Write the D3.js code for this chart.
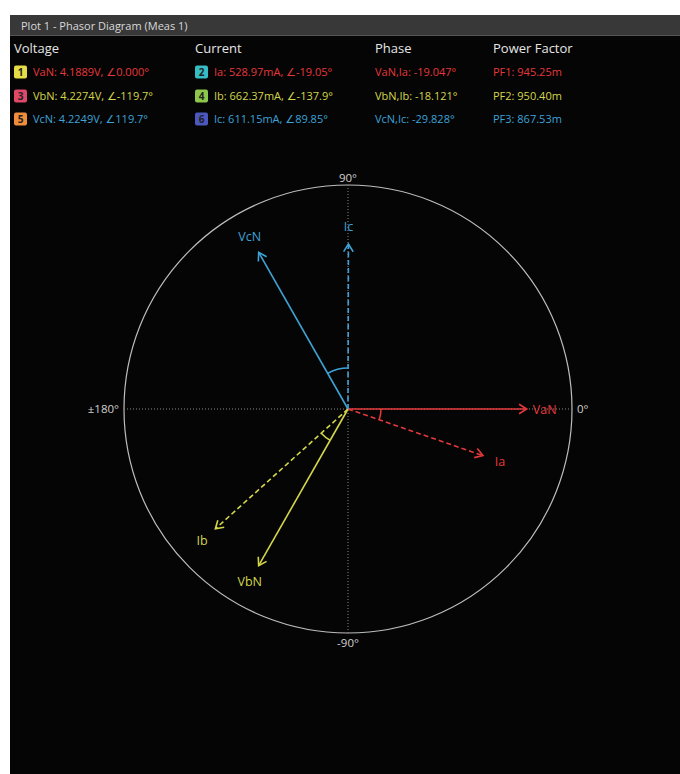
<!DOCTYPE html>
<html>
<head>
<meta charset="utf-8">
<script src="https://cdn.jsdelivr.net/npm/d3@7"></script>
<style>
  body { margin: 0; background: #fff; }
  #chart { position: absolute; left: 0; top: 0; }
</style>
</head>
<body>
<div id="chart"></div>
<script>
// phasor data
const voltNames = ["VaN", "VbN", "VcN"];
const voltMags = [4.1889, 4.2274, 4.2249];       // V
const voltAngles = [0.0, -119.7, 119.7];         // deg
const voltText = ["VaN: 4.1889V, ∠0.000°", "VbN: 4.2274V, ∠-119.7°", "VcN: 4.2249V, ∠119.7°"];

const currNames = ["Ia", "Ib", "Ic"];
const currMags = [528.97, 662.37, 611.15];       // mA
const currAngles = [-19.05, -137.9, 89.85];      // deg
const currText = ["Ia: 528.97mA, ∠-19.05°", "Ib: 662.37mA, ∠-137.9°", "Ic: 611.15mA, ∠89.85°"];

const phaseText = ["VaN,Ia: -19.047°", "VbN,Ib: -18.121°", "VcN,Ic: -29.828°"];
const pfText = ["PF1: 945.25m", "PF2: 950.40m", "PF3: 867.53m"];

const phaseColors = ["#e5383b", "#d3d64a", "#3ea2d6"];
const voltBadges = ["#e6dc45", "#e04868", "#ef8d3a"];
const currBadges = ["#36bcc4", "#8cc64a", "#4a58c0"];
const badgeNums = ["1", "3", "5"];
const currBadgeNums = ["2", "4", "6"];

const axisLabels = [
  { t: "0°", a: 0 }, { t: "90°", a: 90 }, { t: "±180°", a: 180 }, { t: "-90°", a: -90 }
];

const width = 680, height = 774;
const font = "'Open Sans', 'DejaVu Sans', sans-serif";

const svg = d3.select("#chart").append("svg")
  .attr("width", width).attr("height", height);

// panel
svg.append("rect").attr("x", 10).attr("y", 15).attr("width", 670).attr("height", 759).attr("fill", "#050505");
svg.append("rect").attr("x", 10).attr("y", 15).attr("width", 670).attr("height", 20).attr("fill", "#383838");
svg.append("line").attr("x1", 10).attr("x2", 680).attr("y1", 35.5).attr("y2", 35.5).attr("stroke", "#555");
svg.append("text").attr("x", 21).attr("y", 29.5).text("Plot 1 - Phasor Diagram (Meas 1)")
  .attr("fill", "#d8d8d8").style("font-family", font).style("font-size", "11px");

// table
const colX = [14, 195, 375, 493];
const heads = ["Voltage", "Current", "Phase", "Power Factor"];
heads.forEach((h, i) => {
  svg.append("text").attr("x", colX[i]).attr("y", 53).text(h)
    .attr("fill", "#e6e6e6").style("font-family", font).style("font-size", "13px");
});
const rowY = [72, 96, 119];
function badge(x, y, col, num) {
  svg.append("rect").attr("x", x).attr("y", y - 6.5).attr("width", 13).attr("height", 13)
    .attr("rx", 2).attr("fill", col);
  svg.append("text").attr("x", x + 6.5).attr("y", y + 4).attr("text-anchor", "middle").text(num)
    .attr("fill", "#222").style("font-family", font).style("font-size", "10px").style("font-weight", "bold");
}
rowY.forEach((y, i) => {
  badge(14, y, voltBadges[i], badgeNums[i]);
  badge(195, y, currBadges[i], currBadgeNums[i]);
  const cells = [[33, voltText[i]], [214, currText[i]], [375, phaseText[i]], [493, pfText[i]]];
  cells.forEach(([x, t]) => {
    svg.append("text").attr("x", x).attr("y", y + 4).text(t)
      .attr("fill", phaseColors[i]).style("font-family", font).style("font-size", "11px");
  });
});

// polar frame
const cx = 348, cy = 409, R = 224;
const vScale = d3.scaleLinear().domain([0, 5.25]).range([0, R]);
const iScale = d3.scaleLinear().domain([0, 830]).range([0, R]);
const rad = (deg) => deg * Math.PI / 180;
const pt = (r, deg) => [cx + r * Math.cos(rad(deg)), cy - r * Math.sin(rad(deg))];

const g = svg.append("g");
g.append("circle").attr("cx", cx).attr("cy", cy).attr("r", R)
  .attr("fill", "none").attr("stroke", "#bdbdbd").attr("stroke-width", 1.2);
g.append("line").attr("x1", cx - R).attr("x2", cx + R).attr("y1", cy).attr("y2", cy)
  .attr("stroke", "#8a8a8a").attr("stroke-dasharray", "1,2");
g.append("line").attr("x1", cx).attr("x2", cx).attr("y1", cy - R).attr("y2", cy + R)
  .attr("stroke", "#8a8a8a").attr("stroke-dasharray", "1,2");

axisLabels.forEach((d) => {
  let x, y, anchor;
  if (d.a === 0) { [x, y] = pt(R + 5, 0); y += 4; anchor = "start"; }
  else if (d.a === 180) { [x, y] = pt(R + 5, 180); y += 4; anchor = "end"; }
  else if (d.a === 90) { [x, y] = pt(R + 3, 90); anchor = "middle"; }
  else { [x, y] = pt(R + 14, -90); anchor = "middle"; }
  g.append("text").attr("x", x).attr("y", y)
    .attr("text-anchor", anchor).text(d.t)
    .attr("fill", "#d0d0d0").style("font-family", font).style("font-size", "11.5px");
});

// angle arcs between each voltage/current pair
const arcR = [33, 36, 41];
voltAngles.forEach((va, i) => {
  const ca = currAngles[i];
  const a0 = Math.min(va, ca), a1 = Math.max(va, ca);
  const arc = d3.arc().innerRadius(arcR[i]).outerRadius(arcR[i])
    .startAngle(rad(90 - a1)).endAngle(rad(90 - a0));
  g.append("path").attr("d", arc()).attr("transform", `translate(${cx},${cy})`)
    .attr("fill", "none").attr("stroke", phaseColors[i]).attr("stroke-width", 1.5);
});

function phasor(len, deg, col, dashed, name) {
  const [x, y] = pt(len, deg);
  g.append("line").attr("x1", cx).attr("y1", cy).attr("x2", x).attr("y2", y)
    .attr("stroke", col).attr("stroke-width", 1.6)
    .attr("stroke-dasharray", dashed ? "5,3" : null);
  const h = 9, spread = 32;
  const pa = [x - h * Math.cos(rad(deg + spread)), y + h * Math.sin(rad(deg + spread))],
        pb = [x - h * Math.cos(rad(deg - spread)), y + h * Math.sin(rad(deg - spread))];
  g.append("path").attr("d", `M${pa[0]},${pa[1]}L${x},${y}L${pb[0]},${pb[1]}`)
    .attr("fill", "none").attr("stroke", col).attr("stroke-width", 1.6);
  const [lx, ly] = pt(len + 18, deg);
  g.append("text").attr("x", lx).attr("y", ly + 4.5).attr("text-anchor", "middle").text(name)
    .attr("fill", col).style("font-family", font).style("font-size", "12.5px");
}

voltMags.forEach((m, i) => phasor(vScale(m), voltAngles[i], phaseColors[i], false, voltNames[i]));
currMags.forEach((m, i) => phasor(iScale(m), currAngles[i], phaseColors[i], true, currNames[i]));
</script>
</body>
</html>
